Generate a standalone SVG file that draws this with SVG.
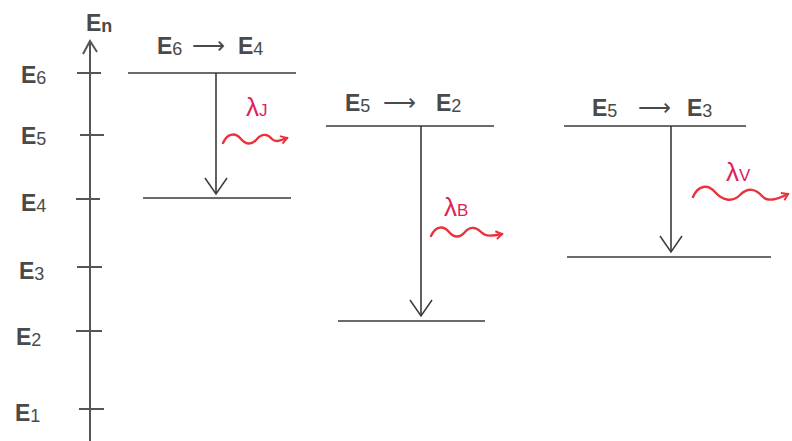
<svg xmlns="http://www.w3.org/2000/svg" width="792" height="441" viewBox="0 0 792 441">
<style>
.ln{stroke:#3a3a3a;stroke-width:1.6;fill:none}
.ax{stroke:#555;stroke-width:2;fill:none}
.lab{font-family:"Liberation Sans",Arial,sans-serif;fill:#4a4a4a}
.b{font-weight:bold;font-size:23px}
.s{font-size:18px}
.ar{font-size:23px}
.lam{font-family:"Liberation Sans",Arial,sans-serif;fill:#e0205a;font-size:26px}
.ls{font-size:17px}
.wave{stroke:#e8333d;stroke-width:2.4;fill:none;stroke-linecap:round}
</style>
<defs>
<marker id="ah" markerWidth="20" markerHeight="26" refX="17" refY="12" orient="auto" markerUnits="userSpaceOnUse">
<path d="M1,1 L17,12 L1,23" fill="none" stroke="#3a3a3a" stroke-width="1.5"/>
</marker>
<marker id="wh" markerWidth="10" markerHeight="10" refX="8" refY="5" orient="auto" markerUnits="userSpaceOnUse">
<path d="M2,1 L8,5 L2,9" fill="none" stroke="#e8333d" stroke-width="2"/>
</marker>
</defs>
<rect width="792" height="441" fill="#fff"/>
<g id="axis">
<line class="ax" x1="90" y1="441" x2="90" y2="42"/>
<path class="ax" d="M83,54 L90,41 L97,52"/>
<text class="lab" x="86" y="31"><tspan class="b">E</tspan><tspan class="s" font-weight="bold" dy="1">n</tspan></text>
<g class="ax" stroke-width="1.6">
<line x1="77" y1="73" x2="101" y2="73"/>
<line x1="80" y1="135" x2="104" y2="135"/>
<line x1="76" y1="199" x2="100" y2="199"/>
<line x1="77" y1="267" x2="102" y2="267"/>
<line x1="76" y1="331" x2="102" y2="331"/>
<line x1="79" y1="409" x2="104" y2="409"/>
</g>
<text class="lab" x="21" y="83"><tspan class="b">E</tspan><tspan class="s" dy="1">6</tspan></text>
<text class="lab" x="21" y="144"><tspan class="b">E</tspan><tspan class="s" dy="1">5</tspan></text>
<text class="lab" x="21" y="211"><tspan class="b">E</tspan><tspan class="s" dy="1">4</tspan></text>
<text class="lab" x="19" y="279"><tspan class="b">E</tspan><tspan class="s" dy="1">3</tspan></text>
<text class="lab" x="16" y="345"><tspan class="b">E</tspan><tspan class="s" dy="1">2</tspan></text>
<text class="lab" x="15" y="421"><tspan class="b">E</tspan><tspan class="s" dy="1">1</tspan></text>
</g>
<g id="t64">
<line class="ln" x1="128" y1="73" x2="296" y2="73"/>
<line class="ln" x1="143" y1="198" x2="291" y2="198"/>
<text class="lab" y="54"><tspan class="b" x="157">E</tspan><tspan class="s" dy="1">6</tspan><tspan class="ar" x="192" dy="-2">⟶</tspan><tspan class="b" x="238" dy="1">E</tspan><tspan class="s" dy="1">4</tspan></text>
<text class="lam" x="246" y="116">λ<tspan class="ls">J</tspan></text>
</g>
<g id="t52">
<line class="ln" x1="326" y1="126" x2="494" y2="126"/>
<line class="ln" x1="338" y1="321" x2="485" y2="321"/>
<text class="lab" y="111"><tspan class="b" x="345">E</tspan><tspan class="s" dy="1">5</tspan><tspan class="ar" x="383" dy="-2">⟶</tspan><tspan class="b" x="436" dy="1">E</tspan><tspan class="s" dy="1">2</tspan></text>
<text class="lam" x="444" y="216">λ<tspan class="ls">B</tspan></text>
</g>
<g id="t53">
<line class="ln" x1="564" y1="126" x2="746" y2="126"/>
<line class="ln" x1="567" y1="257" x2="771" y2="257"/>
<text class="lab" y="116"><tspan class="b" x="592">E</tspan><tspan class="s" dy="1">5</tspan><tspan class="ar" x="638" dy="-2">⟶</tspan><tspan class="b" x="687" dy="1">E</tspan><tspan class="s" dy="1">3</tspan></text>
<text class="lam" x="726" y="181">λ<tspan class="ls">V</tspan></text>
</g>
<g id="connectors">
<line class="ln" x1="216" y1="73" x2="216" y2="194" marker-end="url(#ah)"/>
<line class="ln" x1="421" y1="126" x2="421" y2="316" marker-end="url(#ah)"/>
<line class="ln" x1="671" y1="126" x2="671" y2="252" marker-end="url(#ah)"/>
<path class="wave" d="M223,143 C228,132 236,133 241,139 C246,145 252,145 257,139 C262,133 268,134 272,139 C276,143 281,140 287,138" marker-end="url(#wh)"/>
<path class="wave" d="M431,236 C436,225 444,226 449,232 C454,238 460,238 465,232 C470,226 476,227 481,232 C486,237 492,236 502,234" marker-end="url(#wh)"/>
<path class="wave" d="M693,197 C698,185 708,184 715,192 C722,200 732,203 740,195 C748,187 756,189 762,196 C768,202 776,200 788,194" marker-end="url(#wh)"/>
</g>
</svg>
